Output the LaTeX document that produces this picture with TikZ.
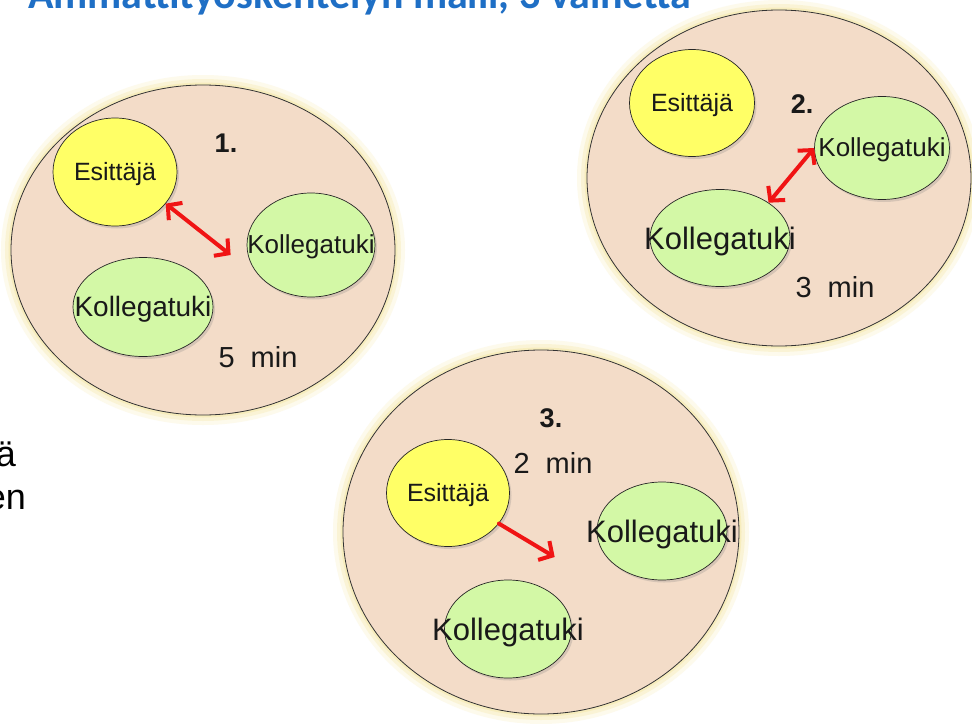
\documentclass[tikz,border=0pt]{standalone}
\usepackage{fontspec}
\setmainfont{Liberation Sans}
\newfontfamily\titlefont{Carlito}
\usetikzlibrary{shapes.geometric,arrows.meta,shadows,calc}
\definecolor{peach}{HTML}{F3DCC8}
\definecolor{esyellow}{HTML}{FFFF66}
\definecolor{kgreen}{HTML}{D3F8A6}
\definecolor{arrred}{HTML}{F01414}
\definecolor{glowcol}{HTML}{F5E6A0}
\definecolor{titleblue}{HTML}{1F6FC5}
\newcommand{\fs}[1]{\fontsize{#1pt}{#1pt}\selectfont}
\tikzset{
  bigcircle/.style={ellipse, draw=black!80, line width=0.8pt, fill=peach, inner sep=0pt,
    preaction={draw=glowcol, line width=20pt, opacity=0.2},
    preaction={draw=glowcol, line width=12pt, opacity=0.3},
    preaction={draw=glowcol, line width=5pt, opacity=0.45}},
  smallell/.style={ellipse, draw=black!85, line width=0.7pt, inner sep=0pt,
    drop shadow={shadow xshift=2pt, shadow yshift=-2.5pt, opacity=0.25}},
  esbox/.style={smallell, fill=esyellow},
  kbox/.style={smallell, fill=kgreen},
  lbl/.style={inner sep=0pt, text=black!90},
  numlbl/.style={lbl, font=\bfseries\fs{27}},
  minlbl/.style={lbl, font=\fs{29}},
  redarrow/.style={draw=arrred, line width=4pt, line cap=round,
    arrows={-Straight Barb[length=10pt, width=22pt]}},
  redboth/.style={redarrow, arrows={Straight Barb[length=10pt, width=22pt]-Straight Barb[length=10pt, width=22pt]}}
}
\begin{document}
\begin{tikzpicture}[x=1pt, y=-1pt]
\useasboundingbox (0,0) rectangle (972,723);
\fill[white] (0,0) rectangle (972,723);

% title (cut off at the top)
\node[anchor=base west, inner sep=0pt, text=titleblue, font=\titlefont\bfseries\fs{42}] (title) at (28,8) {Ammattityöskentelyn malli, 3 vaihetta};

% left text fragments
\node[anchor=base east, inner sep=0pt, font=\fs{36}] (fraga) at (16,466) {ä};
\node[anchor=base east, inner sep=0pt, font=\fs{36}] (fragb) at (26,509) {en};

% big circles
\node[bigcircle, minimum width=384pt, minimum height=330pt] (c1) at (203,250) {};
\node[bigcircle, minimum width=384pt, minimum height=336pt] (c2) at (779,178) {};
\node[bigcircle, minimum width=396pt, minimum height=364pt] (c3) at (541,532) {};

% ---- circle 1
\node[esbox, minimum width=124pt, minimum height=108pt,
  label={[lbl, font=\fs{25}, yshift=-2pt]center:Esittäjä}] (e1) at (115,172) {};
\node[kbox, minimum width=128pt, minimum height=104pt,
  label={[lbl, font=\fs{26}, yshift=-2pt]center:Kollegatuki}] (k1a) at (311,245) {};
\node[kbox, minimum width=140pt, minimum height=99pt,
  label={[lbl, font=\fs{28}, yshift=-2pt]center:Kollegatuki}] (k1b) at (143,307) {};
\node[numlbl] (n1) at (226,143) {1.};
\node[minlbl] (t1) at (258,357) {5\ \ min};
\draw[redboth] (e1.-32) -- ($(k1a.west)+(-16,10)$);

% ---- circle 2
\node[esbox, minimum width=125pt, minimum height=107pt,
  label={[lbl, font=\fs{25}, yshift=-2pt]center:Esittäjä}] (e2) at (692,103) {};
\node[kbox, minimum width=135pt, minimum height=103pt,
  label={[lbl, font=\fs{26}, yshift=-2pt]center:Kollegatuki}] (k2a) at (882,148) {};
\node[kbox, minimum width=140pt, minimum height=97pt,
  label={[lbl, font=\fs{31}, yshift=-3pt]center:Kollegatuki}] (k2b) at (720,238) {};
\node[numlbl] (n2) at (802,104) {2.};
\node[minlbl] (t2) at (835,287) {3\ \ min};
\draw[redboth] (k2a.west) -- (k2b.36);

% ---- circle 3
\node[esbox, minimum width=123pt, minimum height=107pt,
  label={[lbl, font=\fs{25}, yshift=-2pt]center:Esittäjä}] (e3) at (448,493) {};
\node[kbox, minimum width=130pt, minimum height=98pt,
  label={[lbl, font=\fs{31}, yshift=-3pt]center:Kollegatuki}] (k3a) at (662,531) {};
\node[kbox, minimum width=127pt, minimum height=98pt,
  label={[lbl, font=\fs{31}, yshift=-3pt]center:Kollegatuki}] (k3b) at (508,629) {};
\node[numlbl] (n3) at (551,418) {3.};
\node[minlbl] (t3) at (553,463) {2\ \ min};
\draw[redarrow] (e3.-31) -- ($(k3a.west)+(-42,26)$);
\end{tikzpicture}
\end{document}
